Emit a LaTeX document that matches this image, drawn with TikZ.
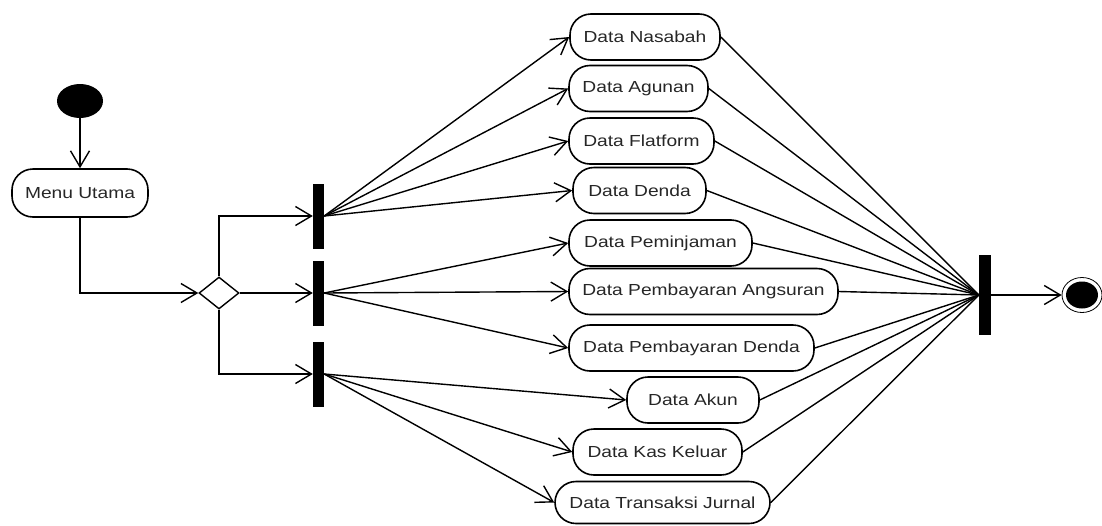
\documentclass[tikz,border=0pt]{standalone}
\usepackage{fontspec}
\setmainfont{Liberation Sans}[FakeStretch=1.2]
\usetikzlibrary{arrows.meta,shapes.geometric}
\begin{document}
\begin{tikzpicture}[x=1pt,y=-1pt,
  font=\fontsize{16}{19}\selectfont,
  act/.style={draw, line width=1.6pt, rounded corners=21pt, minimum height=46pt, inner sep=0pt, align=center, text=black!85},
  bar/.style={fill=black, minimum width=11pt, minimum height=65pt, inner sep=0pt},
  flow/.style={line width=1.4pt, -{Straight Barb[length=16pt,width=19pt,line width=1.4pt]}},
  line/.style={line width=1.4pt}]
\useasboundingbox (0,0) rectangle (1102,525);
% start
\node[ellipse, fill=black, minimum width=46pt, minimum height=34pt, inner sep=0pt] (start) at (80,101) {};
\node[act, minimum width=136pt, minimum height=48pt] (menu) at (80,193) {Menu Utama};
\node[diamond, draw, line width=1.4pt, minimum width=40pt, minimum height=32pt, inner sep=0pt, aspect=1.25] (dia) at (219,293) {};
% fork bars
\node[bar] (b1) at (318.5,216) {};
\node[bar] (b2) at (318.5,293) {};
\node[bar] (b3) at (318.5,374) {};
% activities
\node[act, minimum width=150pt] (n1) at (645,37) {Data Nasabah};
\node[act, minimum width=139pt] (n2) at (638.5,88.5) {Data Agunan};
\node[act, minimum width=145pt] (n3) at (641.5,141) {Data Flatform};
\node[act, minimum width=133pt] (n4) at (639.5,190.5) {Data Denda};
\node[act, minimum width=183pt] (n5) at (660.5,243) {Data Peminjaman};
\node[act, minimum width=269pt] (n6) at (703.5,291.5) {Data Pembayaran Angsuran};
\node[act, minimum width=245pt] (n7) at (691.5,348) {Data Pembayaran Denda};
\node[act, minimum width=132pt] (n8) at (693,400) {Data Akun};
\node[act, minimum width=169pt] (n9) at (657.5,452) {Data Kas Keluar};
\node[act, minimum width=215pt, minimum height=42pt] (n10) at (662.5,502.5) {Data Transaksi Jurnal};
% join bar and end
\node[fill=black, minimum width=12pt, minimum height=80pt, inner sep=0pt] (join) at (985,295) {};
\node[ellipse, draw, line width=0.8pt, minimum width=40pt, minimum height=35pt, inner sep=0pt] (end) at (1082,295) {};
\node[ellipse, fill=black, minimum width=32pt, minimum height=27pt, inner sep=0pt] (endin) at (1082,295) {};
% connectors
\draw[flow] (start) -- (menu);
\draw[flow] (menu.south) |- (dia.west);
\draw[flow] (dia.north) |- (b1.west);
\draw[flow] (dia.east) -- (b2.west);
\draw[flow] (dia.south) |- (b3.west);
\foreach \n in {n1,n2,n3,n4} \draw[flow] (b1.east) -- (\n.west);
\foreach \n in {n5,n6,n7} \draw[flow] (b2.east) -- (\n.west);
\foreach \n in {n8,n9,n10} \draw[flow] (b3.east) -- (\n.west);
\foreach \n in {n1,n2,n3,n4,n5,n6,n7,n8,n9,n10} \draw[line] (\n.east) -- (join.west);
\draw[flow] (join.east) -- (end.west);
\end{tikzpicture}
\end{document}
